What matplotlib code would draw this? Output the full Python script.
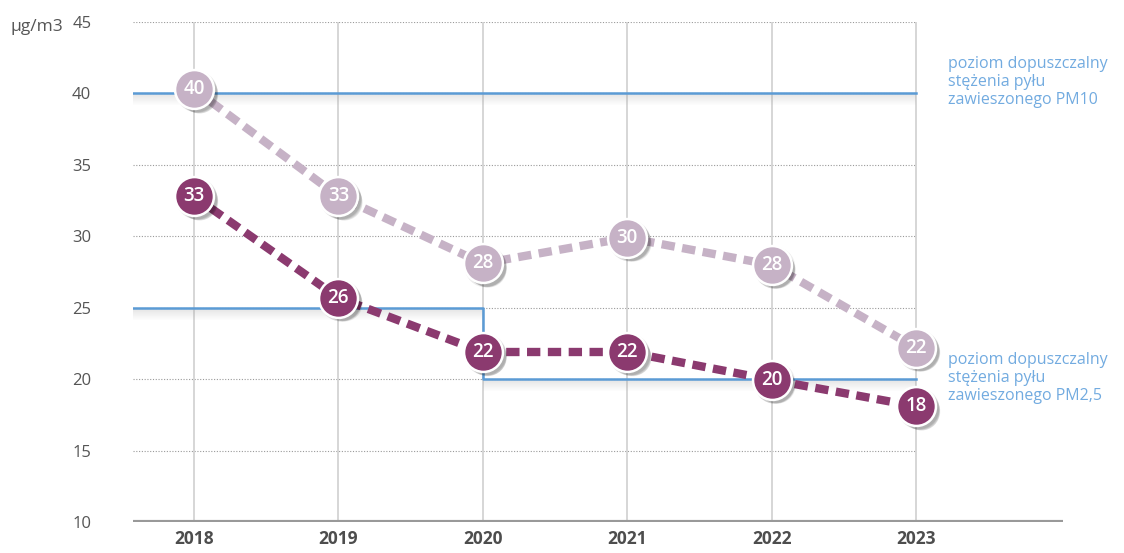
import matplotlib
matplotlib.use("Agg")
import matplotlib.pyplot as plt
import matplotlib.transforms as mtransforms
import numpy as np

years = ["2018", "2019", "2020", "2021", "2022", "2023"]
pm10 = [40.3, 32.8, 28.1, 29.9, 28.0, 22.2]
pm25 = [32.8, 25.7, 21.9, 21.9, 19.95, 18.1]
pm10_labels = ["40", "33", "28", "30", "28", "22"]
pm25_labels = ["33", "26", "22", "22", "20", "18"]
yticks = [10, 15, 20, 25, 30, 35, 40, 45]
limit_pm10 = 40
limit_pm25_steps = [25, 25, 20, 20, 20, 20]

plt.rcParams['font.family'] = ['Open Sans', 'DejaVu Sans']

W, H = 1124, 553
fig = plt.figure(figsize=(W / 100, H / 100), dpi=100)
ax = fig.add_axes([133 / W, 31 / H, (1063 - 133) / W, 500 / H])
x = np.arange(len(years))
xl = (-0.422, 6.018)
ax.set_xlim(*xl)
ax.set_ylim(10, 45)
for s in ax.spines.values():
    s.set_visible(False)
ax.tick_params(length=0)

# grid
for yv in yticks[1:]:
    ax.plot([xl[0], x[-1]], [yv, yv], color='#9a9a9a', lw=0.8, ls=(0, (1, 1.5)), zorder=1)
for xv in x:
    ax.plot([xv, xv], [10, 45], color='#d0d0d0', lw=1.2, zorder=1)
ax.plot([xl[0], xl[1]], [10, 10], color='#999999', lw=3, zorder=2, solid_capstyle='butt')

dark = '#8B3A6F'
light = '#C6B2C6'
blue = '#5B9BD5'
txtblue = '#72ABE0'

# shadows under limit lines
def shade(x0, x1, yv):
    n = 12
    for i in range(n):
        d = 0.07 * i
        ax.fill_between([x0, x1], yv - d - 0.07, yv - d, color='#a0a0a0',
                        alpha=0.28 * (1 - i / n), lw=0, zorder=2)

shade(xl[0], x[-1], limit_pm10)
shade(xl[0], 2, 25)
shade(2, x[-1], 20)
ax.plot([xl[0], x[-1]], [limit_pm10, limit_pm10], color=blue, lw=1.8, zorder=3)
ax.plot([xl[0], 2, 2, x[-1]], [25, 25, 20, 20], color=blue, lw=1.8, zorder=3)

# series lines
ax.plot(x, pm10, color=light, lw=6, ls=(0, (1.6, 0.9)), zorder=4, solid_capstyle='butt')
ax.plot(x, pm25, color=dark, lw=6, ls=(0, (1.6, 0.9)), zorder=4, solid_capstyle='butt')

# marker shadows
for k in range(5):
    off = mtransforms.offset_copy(ax.transData, fig=fig, x=1.5 + k * 0.6, y=-1.5 - k * 0.6, units='points')
    for ys in (pm10, pm25):
        ax.scatter(x, ys, s=(30 - k) ** 2, color='#000000', alpha=0.07, lw=0, zorder=5, transform=off)

ax.scatter(x, pm10, s=28 ** 2, color=light, edgecolor='white', linewidth=1.8, zorder=6)
ax.scatter(x, pm25, s=28 ** 2, color=dark, edgecolor='white', linewidth=1.8, zorder=6)
for xi, yv, lab in zip(x, pm10, pm10_labels):
    ax.text(xi, yv, lab, ha='center', va='center', color='white', fontsize=13.5,
            fontweight='semibold', zorder=7)
for xi, yv, lab in zip(x, pm25, pm25_labels):
    ax.text(xi, yv, lab, ha='center', va='center', color='white', fontsize=13.5,
            fontweight='semibold', zorder=7)

ax.set_yticks(yticks)
ax.set_yticklabels([str(v) for v in yticks], fontsize=12, color='#555555')
ax.tick_params(axis='y', pad=30)
ax.set_xticks(x)
ax.set_xticklabels(years, fontsize=12.5, fontweight='bold', color='#4d4d4d')
ax.tick_params(axis='x', pad=6)

fig.text(10 / W, 1 - 27 / H, 'µg/m3', fontsize=12.5, color='#555555', va='center', ha='left')

fig.text(948 / W, 1 - 56 / H, 'poziom dopuszczalny\nstężenia pyłu\nzawieszonego PM10',
         fontsize=11.5, color=txtblue, va='top', ha='left', linespacing=1.15)
fig.text(948 / W, 1 - 352 / H, 'poziom dopuszczalny\nstężenia pyłu\nzawieszonego PM2,5',
         fontsize=11.5, color=txtblue, va='top', ha='left', linespacing=1.15)

fig.savefig('out.png', dpi=100)
